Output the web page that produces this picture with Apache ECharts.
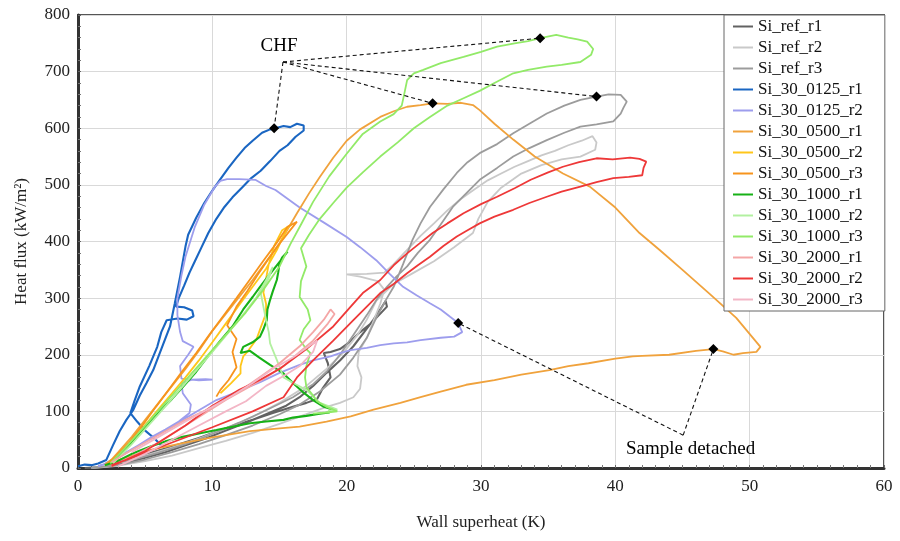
<!DOCTYPE html>
<html><head><meta charset="utf-8">
<script src="https://cdn.jsdelivr.net/npm/echarts@6/dist/echarts.min.js"></script>
<style>html,body{margin:0;padding:0;background:#fff}#c{width:900px;height:541px}</style>
</head><body><div id="c"></div>
<script>
const seriesNames = ['Si_ref_r1','Si_ref_r2','Si_ref_r3','Si_30_0125_r1','Si_30_0125_r2','Si_30_0500_r1','Si_30_0500_r2','Si_30_0500_r3','Si_30_1000_r1','Si_30_1000_r2','Si_30_1000_r3','Si_30_2000_r1','Si_30_2000_r2','Si_30_2000_r3'];
const seriesColors = ['#626262','#c9c9c9','#9c9c9c','#1a66c2','#9d9ded','#f0a23c','#ffc61a','#f7941d','#17b117','#b2f0a0','#92ea68','#f4a6a6','#ee3838','#f3b6c6'];

const refR1 = [[0.5,0],[2,2],[3.5,8],[5,18],[6.5,28],[8,40],[9.5,52],[11,66],[12.5,80],[14,95],[15.5,110],[16.5,125],[17.5,145],[18.5,168],[19.5,190],[20.5,215],[21.3,240],[22,262],[22.5,280],[22.9,295],[23,285],[22.4,270],[21.8,255],[21,240],[20.2,222],[19.5,210],[18.8,205],[18.3,203],[18.6,185],[18.8,160],[18.2,140],[17.8,122],[17,115],[16,108],[14.5,97],[13,85],[11,70],[9,53],[7,38],[5,24],[3,11],[1.5,3]];
const refR2 = [[1,0],[3,4],[5,12],[7,22],[9,35],[11,48],[13,62],[15,78],[17,95],[18.5,108],[19.5,115],[20.5,125],[21,140],[21.1,160],[20.8,180],[20.9,205],[21.5,230],[22,260],[22.5,290],[22.8,315],[22.3,330],[21,338],[20,342],[21.5,343],[22.8,345],[23.5,360],[24.5,385],[25.5,410],[26.5,432],[27.5,455],[28.5,475],[29.5,492],[30.5,508],[31.5,520],[32.5,532],[33.5,542],[34.5,552],[35.5,560],[36.5,570],[37.5,578],[38.3,586],[38.6,575],[38.5,562],[37.4,550],[36,545],[34.5,535],[33,520],[31.5,495],[30.5,470],[29.8,440],[29.4,415],[28,390],[26.5,365],[25,345],[23.5,325],[22.2,295],[21.5,262],[20.8,235],[19.8,205],[18.5,175],[17,145],[15,115],[13,90],[11,70],[9,52],[7,36],[5,22],[3,10],[1.5,3]];
const refR3 = [[1,0],[3,5],[5,15],[7,28],[9,42],[11,58],[13,75],[15,95],[16.5,112],[18,135],[19.5,165],[20.5,195],[21.5,230],[22.3,270],[23,300],[23.5,320],[24.2,360],[24.9,403],[25.5,432],[26.2,461],[27.2,492],[28.2,521],[29,540],[29.9,556],[31.2,572],[32.4,591],[33.6,608],[34.9,626],[36.2,640],[37.4,650],[38.6,656],[39.5,660],[40.4,659],[40.85,647],[40.6,636],[40.4,626],[39.85,612],[38.6,607],[37.4,603],[36.2,592],[34.9,579],[33.6,565],[32.4,550],[31.2,530],[29.9,509],[28.9,485],[27.9,461],[27,430],[26.2,403],[25.3,380],[24.5,356],[23.7,338],[23,320],[22.3,300],[21.5,270],[20.5,235],[19.5,200],[18.5,170],[17.5,148],[16,125],[14,102],[12,80],[10,60],[8,42],[6,27],[4,14],[2,5]];
const s0125r1 = [[0,3],[0.5,6],[1,5],[1.5,8],[2.1,14],[2.6,40],[3.1,65],[3.6,85],[4.1,102],[4.6,128],[5.1,150],[5.6,173],[6.2,210],[6.85,250],[7.2,290],[7.6,338],[8.0,391],[8.2,412],[8.8,442],[9.4,468],[10,490],[10.6,510],[11.2,530],[11.8,548],[12.4,565],[13,578],[13.7,592],[14.3,598],[14.7,600],[15.3,604],[15.8,602],[16.3,608],[16.8,605],[16.8,596],[16.2,585],[15.6,570],[15,560],[14.3,542],[13.6,525],[12.9,512],[12.2,495],[11.5,478],[10.9,461],[10.3,440],[9.7,415],[9.2,390],[8.7,365],[8.3,345],[7.9,322],[7.5,300],[7.3,285],[7.9,284],[8.5,278],[8.6,268],[8.1,262],[7.4,264],[6.6,261],[6.2,240],[5.9,214],[5.3,180],[4.6,144],[4.2,118],[3.9,97],[4.4,82],[5.0,66],[5.7,52],[6.3,37]];
const s0125r2 = [[1.5,3],[2.5,12],[3.5,25],[4.5,40],[5.5,55],[6.5,68],[7.5,82],[8.3,97],[8.4,112],[7.8,132],[7.7,150],[8.5,156],[9.5,157],[10,156],[9,155],[7.7,158],[7.6,180],[8.2,200],[8.6,214],[7.8,224],[7.6,240],[7.4,270],[7.4,300],[7.7,340],[8,373],[8.7,426],[9.4,465],[10.2,497],[10.6,507],[11.1,510],[12,510],[13.2,509],[14,498],[14.7,491],[16.5,460],[18.4,432],[20,408],[21,390],[22.2,367],[23.2,343],[24.2,320],[25.2,305],[26.2,291],[27,280],[27.7,267],[28.3,256],[28.6,240],[28,232],[27,230],[25.5,226],[24.5,222],[23.5,220],[22.5,217],[21.5,212],[20.3,208],[19.5,203],[18.8,197],[17.5,190],[16.5,182],[15,168],[13.6,152],[12,136],[10.3,120],[9,102],[7.8,85],[6.1,61],[4.5,40],[3,20],[2,8]];
const s0500r1 = [[2,6],[2.5,15],[3,28],[4,55],[5,85],[6,115],[7,145],[8,175],[9,207],[10,242],[11,272],[12,302],[13,332],[14,364],[15,397],[16.3,450],[17.2,485],[18,514],[19,548],[20,578],[21,598],[22.5,620],[23.5,630],[24.5,638],[25.5,641],[26.4,644],[27.5,643],[28.5,645],[29.4,641],[29.9,632],[31,608],[32.4,580],[34,550],[36.1,520],[38.1,497],[40,460],[41.8,415],[43.3,385],[45,350],[47,308],[49,265],[50.8,214],[50.5,205],[49.5,203],[48.8,200],[48,206],[47.3,210],[46,207],[44,200],[42,198],[41.3,197],[40,193],[38,185],[36.5,180],[35.1,173],[33,165],[31,155],[28.9,147],[27,135],[25.5,125],[24,115],[22,103],[20.3,91],[18.5,82],[16.5,73],[15,70],[12.8,65],[10,54],[7.8,44],[5.4,32],[3.5,18],[2,5]];
const s0500r2 = [[2.3,6],[3,22],[4,48],[5,76],[6,104],[7,132],[8,160],[9,190],[10,222],[11,255],[12,288],[13,320],[14,352],[14.8,385],[15.3,410],[15.6,424],[15.9,430],[15.2,420],[14.6,392],[14.2,360],[14,335],[13.8,310],[14,290],[14,273],[13.6,248],[13.3,228],[12.6,205],[12.3,197],[12.1,180],[12.1,167],[11.4,150],[10.6,132]];
const s0500r3 = [[2.1,6],[2.8,20],[3.8,45],[4.8,75],[5.8,108],[6.8,140],[7.8,172],[8.8,203],[9.8,236],[10.8,268],[11.8,300],[12.8,333],[13.8,366],[14.8,398],[15.6,426],[16.3,435],[15.8,420],[15,396],[14.2,370],[13.4,342],[12.6,312],[11.8,285],[11.1,252],[11.8,228],[11.5,205],[11.8,178],[11.2,155],[10.6,138],[10.3,126]];
const s1000r1 = [[2.5,8],[3.2,25],[4,45],[5,72],[6,98],[7,122],[7.8,143],[8.8,170],[9.7,198],[10.6,225],[11.5,250],[12.3,280],[13,302],[13.55,320],[14.2,340],[14.8,358],[15.3,373],[15.6,382],[15.2,372],[15,362],[14.9,345],[14.8,332],[14.5,312],[14.3,297],[14.1,280],[14.05,261],[13.8,245],[13.55,232],[13,222],[12.3,214],[12.1,203],[12.8,207],[13.5,195],[14.3,182],[15.3,167],[16,150],[16.8,133],[17.5,120],[18.3,108],[19,103],[18.7,98],[18,96],[17,92],[16,89],[15.3,85],[14,82],[12.8,79],[11.5,73],[10.3,67],[9,61],[7.8,55],[6.5,47],[5.4,38],[4,25],[3,13],[2,5]];
const s1000r2 = [[2.6,8],[4,42],[6,95],[8,150],[10,205],[12,262],[13.3,302],[14,332],[14.5,355],[14.2,335],[13.6,310],[13.8,285],[14,261],[14.2,240],[14.3,220],[14.8,191],[15.3,160],[16.2,148],[17,138],[18,115],[18.8,108],[19.3,103],[18.6,101]];
const s1000r3 = [[2.4,8],[3.5,35],[5,75],[6.5,115],[8,155],[9.5,195],[11,235],[12.5,275],[13.8,315],[15,356],[15.8,395],[16.6,430],[17.5,470],[18.7,515],[20,555],[21.2,590],[22.5,612],[23.5,625],[24.1,640],[24.3,662],[24.5,685],[25,697],[25.7,703],[27,715],[28.7,726],[30,735],[31.2,744],[32.5,750],[33.5,754],[34.4,759],[35.6,765],[36.5,760],[37.2,757],[37.9,753],[38.35,740],[38.2,730],[37.4,717],[36,712],[34.9,709],[33.5,703],[32.4,697],[31,680],[29.9,666],[28.7,653],[27.5,640],[26.2,620],[25,600],[23.8,575],[22.5,550],[21.2,522],[20,495],[19,468],[18,440],[17.2,412],[16.6,388],[17,356],[16.6,330],[16.5,302],[17.1,280],[17.3,261],[16.8,245],[16.5,226],[17,210],[17.3,203],[17,180],[16.9,160],[17,143],[17.5,128],[17.8,118],[18.5,108],[19.3,100],[18.5,98],[17.5,96]];
const s2000r1 = [[2.5,3],[4,20],[6,45],[8,75],[10,105],[12,135],[13.5,160],[15,185],[16.5,215],[17.5,240],[18.3,262],[18.8,280],[19.1,272],[18.6,255],[17.5,225],[16.5,205],[15.3,180],[14,160],[12.5,140],[11,120],[9.5,102],[8,85],[6.5,65],[5,45],[3.5,25],[2.5,10]];
const s2000r2 = [[2.5,3],[5,30],[8,75],[10,110],[12,138],[13.5,155],[15,175],[17,210],[19,250],[20.3,285],[21.2,309],[22.5,332],[23.5,358],[24.5,379],[25.5,398],[26.4,415],[27.5,432],[28.7,450],[30,466],[31.2,479],[32.5,494],[33.7,509],[35,522],[36.1,532],[37.3,540],[38.6,547],[39.8,545],[41.1,548],[41.8,546],[42.3,541],[42.1,530],[42,517],[41,514],[39.85,512],[38.6,505],[37.4,497],[36,488],[34.9,479],[33.6,468],[32.4,456],[31,444],[29.9,432],[29,420],[28.2,409],[27.2,392],[26.2,373],[25.3,358],[24.5,344],[23.5,325],[22.5,309],[21.5,285],[20.5,261],[19,225],[17.5,190],[16.3,160],[15.3,125],[13,100],[10,72],[7,45],[4,18],[2.5,5]];
const s2000r3 = [[3,3],[5,25],[7,50],[9,75],[11,100],[12.5,118],[14,145],[15.5,165],[16.5,180],[17.5,205],[17.8,225],[17,212],[16,195],[14.5,175],[13,150],[11.5,128],[10,108],[8,82],[6,55],[4,28]];
const seriesData = [refR1,refR2,refR3,s0125r1,s0125r2,s0500r1,s0500r2,s0500r3,s1000r1,s1000r2,s1000r3,s2000r1,s2000r2,s2000r3];

const xMin = 0, xMax = 60, xStep = 10;
const yMin = 0, yMax = 800, yStep = 100;
const chfPoints = [[14.6,600],[26.4,644],[34.4,759],[38.6,656]];
const chfHub = [15.26,717];
const chfLabel = [14.97,745];
const detachPoints = [[28.3,256],[47.3,210]];
const detachHub = [45.05,58];
const detachLabel = [45.6,33];

const serif = 'Liberation Serif';
const chart = echarts.init(document.getElementById('c'), null, {renderer:'canvas'});
const lineSeries = seriesNames.map((n,i)=>({
  name:n, type:'line', data:seriesData[i], showSymbol:false, symbol:'none',
  color:seriesColors[i], lineStyle:{width:(i===3||i===0||i===8)?2.1:1.8, color:seriesColors[i]},
  animation:false, z:2
}));
const dash = {type:[4,3], color:'#111', width:1.1, opacity:1};
const textStyle = {fontFamily:serif, fontSize:19, color:'#000', textBorderWidth:0, opacity:1};
const annot = [
  {name:'chf', type:'scatter', data:chfPoints, symbol:'diamond', symbolSize:10, itemStyle:{color:'#000', opacity:1}, z:10, animation:false,
   markLine:{silent:true, symbol:['none','none'], animation:false, label:{show:false}, lineStyle:dash,
     data:chfPoints.map(p=>[{coord:chfHub},{coord:p}])}},
  {name:'detach', type:'scatter', data:detachPoints, symbol:'diamond', symbolSize:10, itemStyle:{color:'#000', opacity:1}, z:10, animation:false,
   markLine:{silent:true, symbol:['none','none'], animation:false, label:{show:false}, lineStyle:dash,
     data:detachPoints.map(p=>[{coord:detachHub},{coord:p}])}},
  {name:'chfText', type:'scatter', data:[chfLabel], symbolSize:0, z:11, animation:false, silent:true,
   label:Object.assign({show:true, position:'inside', formatter:'CHF'}, textStyle)},
  {name:'detText', type:'scatter', data:[detachLabel], symbolSize:0, z:11, animation:false, silent:true,
   label:Object.assign({show:true, position:'inside', formatter:'Sample detached'}, textStyle)}
];
chart.setOption({
  animation:false,
  backgroundColor:'#fff',
  grid:{left:78, right:16, top:15, bottom:73, show:true, borderColor:'#555', borderWidth:2, backgroundColor:'#fff'},
  legend:{data:seriesNames, orient:'vertical', left:724, top:15, icon:'rect', itemWidth:20, itemHeight:2, itemGap:4, itemTextGap:5,
    padding:[3,22,3,9], backgroundColor:'#fff', borderColor:'#666', borderWidth:1,
    textStyle:{fontFamily:serif, fontSize:17, color:'#111'}},
  xAxis:{type:'value', min:xMin, max:xMax, interval:xStep,
    axisLine:{show:true, onZero:false, lineStyle:{color:'#333', width:3}},
    axisTick:{show:true, inside:true, length:3, lineStyle:{color:'#666'}},
    minorTick:{show:true, splitNumber:10, length:3, lineStyle:{color:'#777'}},
    splitLine:{show:true, lineStyle:{color:'#d9d9d9', width:1}},
    axisLabel:{fontFamily:serif, fontSize:17, color:'#222', margin:10},
    name:'Wall superheat (K)', nameLocation:'middle', nameGap:46, nameTextStyle:{fontFamily:serif, fontSize:17, color:'#222'}},
  yAxis:{type:'value', min:yMin, max:yMax, interval:yStep,
    axisLine:{show:true, onZero:false, lineStyle:{color:'#333', width:3}},
    axisTick:{show:true, inside:true, length:3, lineStyle:{color:'#666'}},
    minorTick:{show:true, splitNumber:5, length:3, lineStyle:{color:'#777'}},
    splitLine:{show:true, lineStyle:{color:'#d9d9d9', width:1}},
    axisLabel:{fontFamily:serif, fontSize:17, color:'#222', margin:8},
    name:'Heat flux (kW/m²)', nameLocation:'middle', nameGap:48, nameRotate:90, nameTextStyle:{fontFamily:serif, fontSize:17, color:'#222'}},
  series: lineSeries.concat(annot)
});
</script></body></html>
